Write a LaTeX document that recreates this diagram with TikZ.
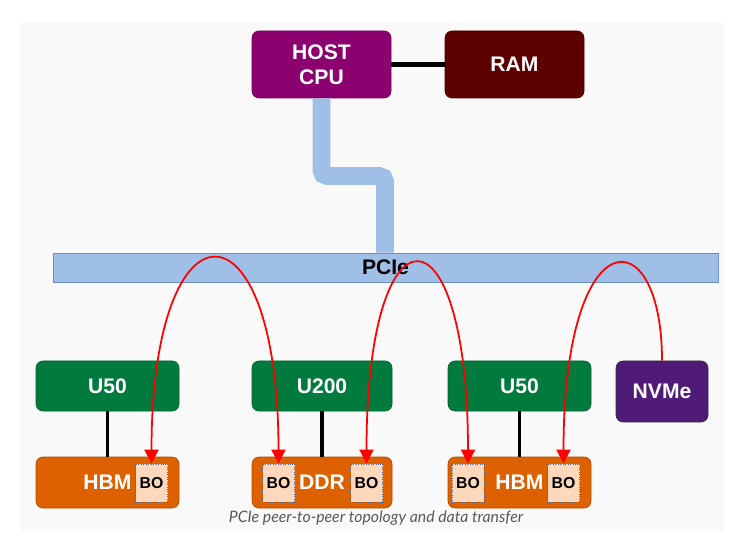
\documentclass[tikz,border=0pt]{standalone}
\usepackage{fontspec}
\setmainfont{Liberation Sans}
\newfontfamily\capfont{Lato}
\usetikzlibrary{arrows.meta}
\definecolor{cpucol}{HTML}{8C0070}
\definecolor{ramcol}{HTML}{5C0000}
\definecolor{cardcol}{HTML}{007A3D}
\definecolor{memcol}{HTML}{DD6100}
\definecolor{nvmecol}{HTML}{4F1B77}
\definecolor{bocol}{HTML}{FDD8BD}
\definecolor{buscol}{HTML}{9FBFE6}
\definecolor{busline}{HTML}{6C90C8}
\definecolor{bgcol}{HTML}{F9F9F9}
\begin{document}
\begin{tikzpicture}[
    >={Triangle[width=8pt,length=8pt]},
    box/.style={rounded corners=4pt, text=white, align=center, inner sep=0pt,
        font=\fontsize{12}{14}\selectfont\bfseries},
    bo/.style={draw=busline!70!black, densely dotted, fill=bocol, minimum width=0.64cm,
        minimum height=0.76cm, inner sep=0pt, font=\fontsize{9}{10}\selectfont\bfseries},
    xfer/.style={red, line width=1pt},
    pipe/.style={buscol, line width=10pt, rounded corners=3pt}]
        \useasboundingbox (0,0) rectangle (14.76,10.74);
        % Background
        \fill[bgcol] (0.42,0.12) rectangle (14.48,10.3);
        % Host side
        \node[box, fill=cpucol, draw=cpucol!80!black, minimum width=2.78cm, minimum height=1.34cm] (cpu) at (6.43,9.45) {HOST\\CPU};
        \node[box, fill=ramcol, draw=ramcol!80!black, minimum width=2.78cm, minimum height=1.34cm] (ram) at (10.29,9.45) {RAM};
        \draw[line width=2.8pt] (cpu) -- (ram);
        % PCIe bus
        \coordinate (bend) at (7.7,7.22);
        \node[draw=busline, fill=buscol, minimum width=13.3cm, minimum height=0.58cm, inner sep=0pt,
            font=\fontsize{12}{14}\selectfont\bfseries] (pcie) at (7.71,5.39) {PCIe};
        \draw[pipe] (cpu.south) |- (bend) -- (bend |- pcie.north);
        % Cards
        \node[box, fill=cardcol, draw=cardcol!80!black, minimum width=2.86cm, minimum height=1cm] (u50a) at (2.15,3.02) {U50};
        \node[box, fill=cardcol, draw=cardcol!80!black, minimum width=2.8cm, minimum height=1cm] (u200) at (6.44,3.02) {U200};
        \node[box, fill=cardcol, draw=cardcol!80!black, minimum width=2.86cm, minimum height=1cm] (u50b) at (10.39,3.02) {U50};
        \node[box, fill=nvmecol, draw=black!80, minimum width=1.84cm, minimum height=1.22cm] (nvme) at (13.24,2.91) {NVMe};
        % Card memories
        \node[box, fill=memcol, draw=memcol!80!black, minimum width=2.86cm, minimum height=1.02cm] (hbma) at (2.15,1.09) {HBM};
        \node[box, fill=memcol, draw=memcol!80!black, minimum width=2.8cm, minimum height=1.02cm] (ddr) at (6.44,1.09) {DDR};
        \node[box, fill=memcol, draw=memcol!80!black, minimum width=2.86cm, minimum height=1.02cm] (hbmb) at (10.39,1.09) {HBM};
        \foreach \c/\m in {u50a/hbma, u200/ddr, u50b/hbmb}
            \draw[line width=2pt] (\c) -- (\m);
        % Buffer objects
        \node[bo] (bo1) at (3.03,1.08) {BO};
        \node[bo] (bo2) at (5.57,1.08) {BO};
        \node[bo] (bo3) at (7.33,1.08) {BO};
        \node[bo] (bo4) at (9.36,1.08) {BO};
        \node[bo] (bo5) at (11.27,1.08) {BO};
        % Peer-to-peer transfers
        \draw[xfer, <->] (bo1.north) .. controls +(0,5.43) and +(0,5.43) .. (bo2.north);
        \draw[xfer, <->] (bo3.north) .. controls +(0,5.31) and +(0,5.31) .. (bo4.north);
        \draw[xfer, ->] (nvme.north) .. controls +(0,2.88) and +(0,4.94) .. (bo5.north);
        % Caption
        \node[text=black!65, font=\capfont\itshape\fontsize{9}{10}\selectfont] (cap) at (7.52,0.38) {PCIe peer-to-peer topology and data transfer};
    \end{tikzpicture}
\end{document}
